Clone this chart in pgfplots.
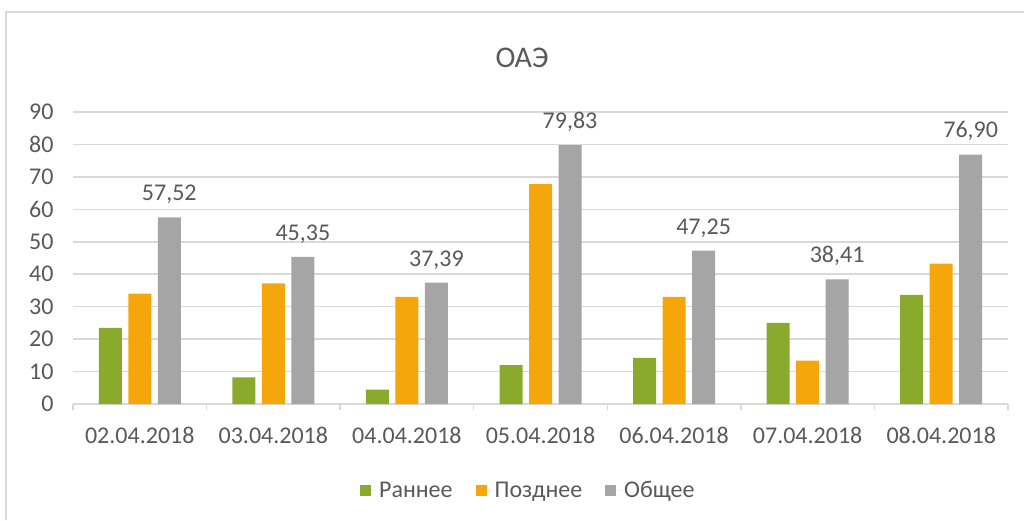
\documentclass[border=0pt]{standalone}
\usepackage{pgfplots}
\pgfplotsset{compat=1.18}
\usepackage{fontspec}
\setmainfont{Carlito}
\definecolor{cgreen}{HTML}{8AAA2E}
\definecolor{corange}{HTML}{F5A60B}
\definecolor{cgrey}{HTML}{A5A5A5}
\definecolor{ctext}{HTML}{595959}
\definecolor{cgrid}{HTML}{D9D9D9}
\begin{document}
\begin{tikzpicture}[x=1pt,y=1pt]
\useasboundingbox (0,0) rectangle (1024,520);
\draw[cgrid, line width=1.5pt] (6,0) -- (6,508) -- (1024,508);
\node[text=ctext, font=\fontsize{30}{36}\selectfont, inner sep=0pt] at (522,462) {ОАЭ};
\begin{axis}[
  at={(73pt,116pt)}, anchor=south west,
  width=935pt, height=292pt, scale only axis,
  clip=false,
  xmin=-0.5, xmax=6.5, ymin=0, ymax=90,
  ytick={0,10,...,90},
  xtick={0,...,6},
  xticklabels={02.04.2018,03.04.2018,04.04.2018,05.04.2018,06.04.2018,07.04.2018,08.04.2018},
  major tick length=0pt,
  extra x ticks={-0.5,0.5,1.5,2.5,3.5,4.5,5.5,6.5},
  extra x tick labels={},
  extra x tick style={grid=none, major tick length=6pt, tick align=outside, tick style={cgrid, line width=1.5pt}},
  ymajorgrids, grid style={cgrid, line width=1.5pt},
  axis x line*=bottom, axis y line*=left,
  x axis line style={cgrid, line width=1.5pt},
  y axis line style={draw=none},
  ticklabel style={text=ctext, font=\fontsize{24}{28}\selectfont},
  yticklabel style={xshift=-16pt},
  xticklabel style={yshift=-20pt},
  /pgf/number format/assume math mode=true,
  ybar=6.5pt, bar width=23pt,
  legend style={at={(axis description cs:0.487,-0.295)}, anchor=center, draw=none, fill=none,
    legend columns=3, font=\fontsize{24}{28}\selectfont, text=ctext,
    /tikz/every even column/.append style={column sep=21pt}},
  legend image code/.code={\path (0pt,0pt) -- (17pt,0pt); \fill[#1] (0pt,-5.5pt) rectangle (11pt,5.5pt);},
]
\addplot[fill=cgreen, draw=none] coordinates {(0,23.5) (1,8.2) (2,4.4) (3,12.0) (4,14.2) (5,25.0) (6,33.6)};
\addlegendentry{Раннее}
\addplot[fill=corange, draw=none] coordinates {(0,34.0) (1,37.15) (2,33.0) (3,67.8) (4,33.05) (5,13.4) (6,43.3)};
\addlegendentry{Позднее}
\addplot[fill=cgrey, draw=none,
  nodes near coords={\pgfmathprintnumber[fixed,fixed zerofill,precision=2,use comma]{\pgfplotspointmeta}},
  nodes near coords style={text=ctext, font=\fontsize{24}{28}\selectfont, yshift=10pt}]
  coordinates {(0,57.52) (1,45.35) (2,37.39) (3,79.83) (4,47.25) (5,38.41) (6,76.90)};
\addlegendentry{Общее}
\end{axis}
\end{tikzpicture}
\end{document}
